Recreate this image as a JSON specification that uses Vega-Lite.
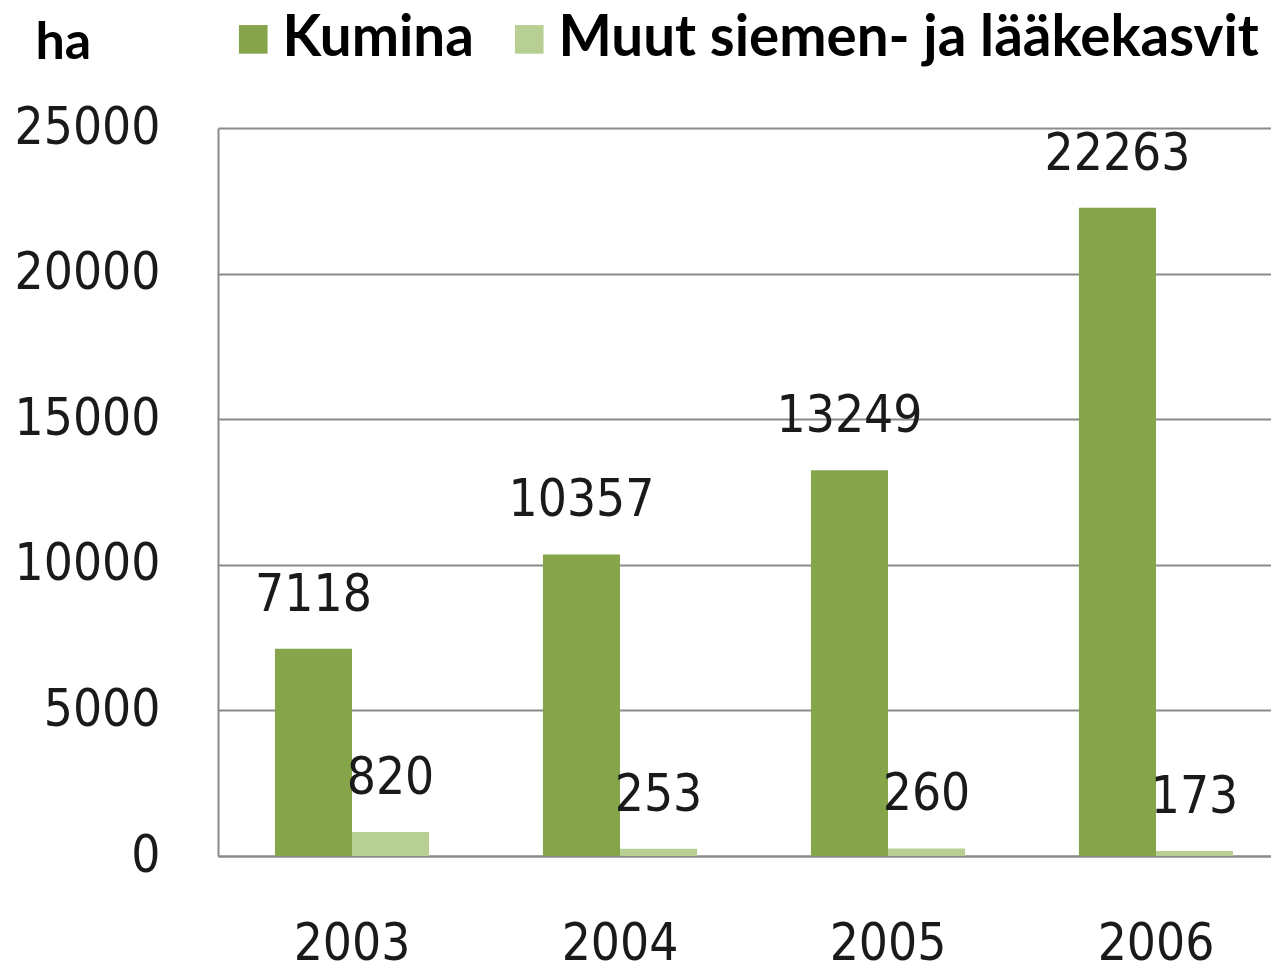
{
  "$schema": "https://vega.github.io/schema/vega-lite/v6.json",
  "width": 1053,
  "height": 728,
  "autosize": {"type": "none"},
  "padding": {"left": 218, "top": 128, "right": 0, "bottom": 116},
  "background": "white",
  "data": {
    "values": [
      {"year": "2003", "series": "Kumina", "value": 7118},
      {"year": "2003", "series": "Muut siemen- ja lääkekasvit", "value": 820},
      {"year": "2004", "series": "Kumina", "value": 10357},
      {"year": "2004", "series": "Muut siemen- ja lääkekasvit", "value": 253},
      {"year": "2005", "series": "Kumina", "value": 13249},
      {"year": "2005", "series": "Muut siemen- ja lääkekasvit", "value": 260},
      {"year": "2006", "series": "Kumina", "value": 22263},
      {"year": "2006", "series": "Muut siemen- ja lääkekasvit", "value": 173}
    ]
  },
  "config": {
    "view": {"stroke": null},
    "legend": {"padding": 0}
  },
  "encoding": {
    "x": {
      "field": "year",
      "type": "nominal",
      "scale": {"range": [0, 1072], "paddingInner": 0.425, "paddingOuter": 0.2125},
      "axis": {
        "title": null,
        "labelAngle": 0,
        "grid": false,
        "ticks": false,
        "domain": true,
        "domainColor": "#8a8a8a",
        "domainWidth": 2,
        "labelFont": "DejaVu Sans Condensed, DejaVu Sans",
        "labelFontSize": 51,
        "labelColor": "#1a1a1a",
        "labelPadding": 63
      }
    },
    "xOffset": {
      "field": "series",
      "sort": ["Kumina", "Muut siemen- ja lääkekasvit"],
      "scale": {"paddingInner": 0, "paddingOuter": 0}
    },
    "y": {
      "field": "value",
      "type": "quantitative",
      "scale": {"domain": [0, 25000], "nice": false},
      "axis": {
        "values": [0, 5000, 10000, 15000, 20000, 25000],
        "format": "d",
        "grid": true,
        "gridColor": "#8a8a8a",
        "gridWidth": 2,
        "domain": true,
        "domainColor": "#8a8a8a",
        "domainWidth": 2,
        "ticks": false,
        "labelFont": "DejaVu Sans Condensed, DejaVu Sans",
        "labelFontSize": 51,
        "labelColor": "#1a1a1a",
        "labelPadding": 58,
        "title": "ha",
        "titleAngle": 0,
        "titleAlign": "left",
        "titleBaseline": "alphabetic",
        "titleX": -183,
        "titleY": -70,
        "titleFont": "Lato",
        "titleFontWeight": "bold",
        "titleFontSize": 52,
        "titleColor": "#000000"
      }
    }
  },
  "layer": [
    {
      "mark": {"type": "bar"},
      "encoding": {
        "color": {
          "field": "series",
          "type": "nominal",
          "sort": ["Kumina", "Muut siemen- ja lääkekasvit"],
          "scale": {"domain": ["Kumina", "Muut siemen- ja lääkekasvit"], "range": ["#86a44a", "#b7cf93"]},
          "legend": {
            "title": null,
            "orient": "none",
            "direction": "horizontal",
            "legendX": 7,
            "legendY": -117,
            "symbolType": "square",
            "symbolSize": 820,
            "symbolStrokeWidth": 0,
            "labelOffset": 1,
            "columnPadding": 27,
            "labelFont": "Lato",
            "labelFontWeight": "bold",
            "labelFontSize": 56.5,
            "labelColor": "#000000",
            "labelLimit": 1200
          }
        }
      }
    },
    {
      "mark": {
        "type": "text",
        "baseline": "alphabetic",
        "dy": -38,
        "font": "DejaVu Sans Condensed, DejaVu Sans",
        "fontSize": 51,
        "color": "#1a1a1a"
      },
      "encoding": {
        "text": {"field": "value", "type": "quantitative", "format": "d"}
      }
    }
  ]
}
